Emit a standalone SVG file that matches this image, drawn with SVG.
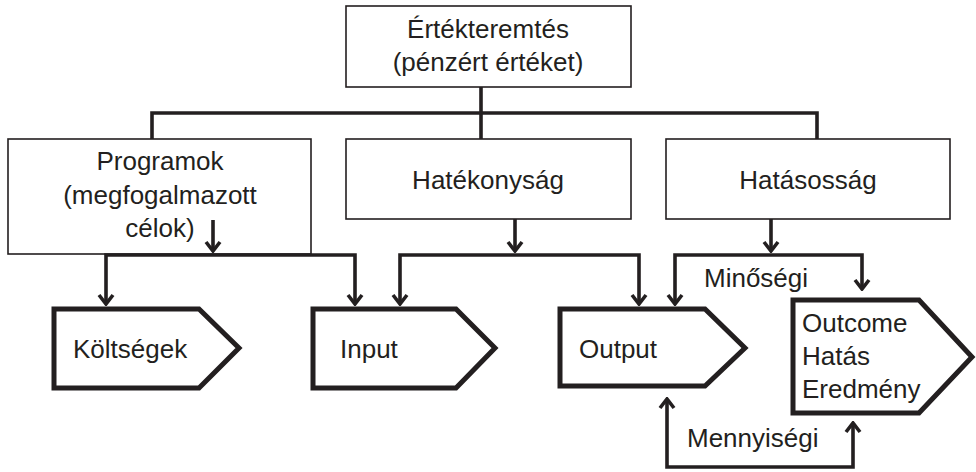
<svg xmlns="http://www.w3.org/2000/svg" width="976" height="472" viewBox="0 0 976 472">
<defs>
<style>
.box{fill:#fff;stroke:#231f20;stroke-width:1.6}
.pent{fill:#fff;stroke:#231f20;stroke-width:5;stroke-linejoin:miter}
.con{fill:none;stroke:#231f20;stroke-width:3.6;stroke-linejoin:miter}
.arr{marker-end:url(#ah)}
.arr2{marker-start:url(#ahs);marker-end:url(#ah)}
text{font-family:"Liberation Sans",Arial,sans-serif;font-size:26px;fill:#231f20}
.c{text-anchor:middle}
</style>
<marker id="ah" markerUnits="userSpaceOnUse" viewBox="-12 -9 14 18" refX="0" refY="0" markerWidth="14" markerHeight="18" orient="auto">
<path d="M-9,-7 L0,0 L-9,7" fill="none" stroke="#231f20" stroke-width="3.6"/>
</marker>
<marker id="ahs" markerUnits="userSpaceOnUse" viewBox="-12 -9 14 18" refX="0" refY="0" markerWidth="14" markerHeight="18" orient="auto-start-reverse">
<path d="M-9,-7 L0,0 L-9,7" fill="none" stroke="#231f20" stroke-width="3.6"/>
</marker>
</defs>
<rect width="976" height="472" fill="#fff"/>
<g id="n-ertekteremtes">
<rect class="box" x="346" y="6" width="285" height="81"/>
<text class="c" x="488" y="38">Értékteremtés</text>
<text class="c" x="488" y="71">(pénzért értéket)</text>
</g>
<g id="n-programok">
<rect class="box" x="8" y="139" width="303" height="115"/>
<text class="c" x="160" y="170">Programok</text>
<text class="c" x="160" y="204">(megfogalmazott</text>
<text class="c" x="160" y="237">célok)</text>
</g>
<g id="n-hatekonysag">
<rect class="box" x="346" y="139" width="285" height="80"/>
<text class="c" x="488" y="189">Hatékonyság</text>
</g>
<g id="n-hatasossag">
<rect class="box" x="666" y="139" width="284" height="80"/>
<text class="c" x="808" y="189">Hatásosság</text>
</g>
<g id="n-koltsegek">
<polygon class="pent" points="54,309 199,309 239,348 199,388 54,388"/>
<text x="73" y="358">Költségek</text>
</g>
<g id="n-input">
<polygon class="pent" points="313,309 456,309 495,348 456,388 313,388"/>
<text x="340" y="358">Input</text>
</g>
<g id="n-output">
<polygon class="pent" points="560,309 705,309 745,348 705,386 560,386"/>
<text x="579" y="358">Output</text>
</g>
<g id="n-outcome">
<polygon class="pent" points="793,300 919,300 972,357 919,413 793,413"/>
<text x="802" y="332">Outcome</text>
<text x="802" y="365">Hatás</text>
<text x="802" y="398">Eredmény</text>
</g>
<g id="connectors">
<path class="con" d="M481,87 V139 M152,139 V113 H817 V139"/>
<path class="con arr" d="M213,220 V251"/>
<path class="con arr2" d="M106,304 V255 H355 V304"/>
<path class="con arr" d="M515,219 V251"/>
<path class="con arr2" d="M400,304 V255 H639 V304"/>
<path class="con arr" d="M771,219 V251"/>
<path class="con arr2" d="M675,304 V255 H862 V289"/>
<path class="con arr2" d="M667,399 V467 H853 V423"/>
</g>
<g id="labels">
<text x="704" y="287">Minőségi</text>
<text x="687" y="447">Mennyiségi</text>
</g>
</svg>
